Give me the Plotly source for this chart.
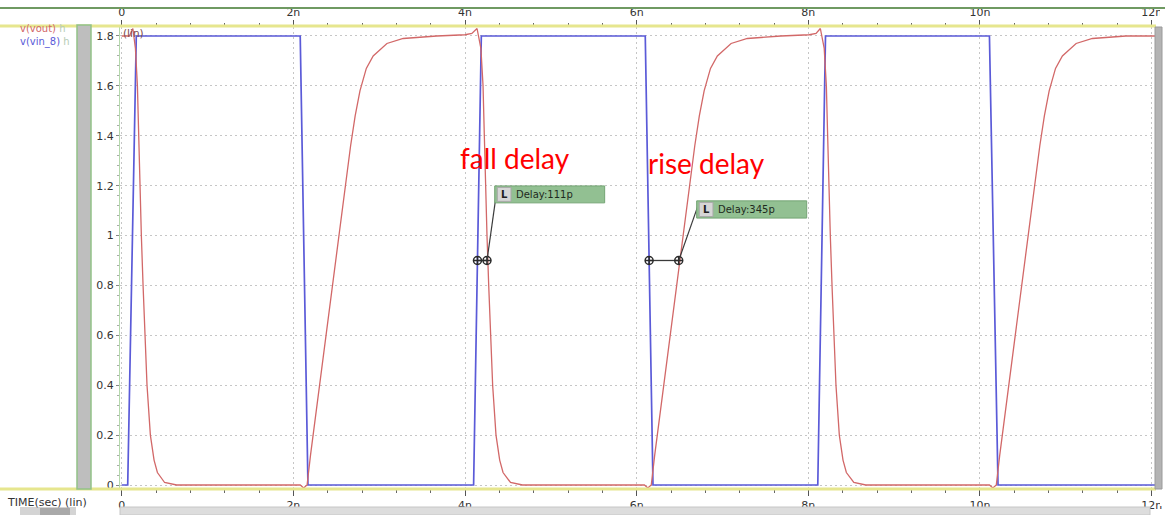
import plotly.graph_objects as go

# ---- waveform data (time in ns, voltage in V) ----
vin_t = [0.0, 0.07, 0.17, 2.08, 2.17, 4.10, 4.19, 6.10, 6.19, 8.11, 8.20, 10.11, 10.21, 12.04]
vin_v = [0.0, 0.0, 1.8, 1.8, 0.0, 0.0, 1.8, 1.8, 0.0, 0.0, 1.8, 1.8, 0.0, 0.0]

fall1_t = [0.0, 0.09, 0.13, 0.16, 0.183, 0.198, 0.21, 0.229, 0.249, 0.272, 0.295, 0.334, 0.377, 0.416, 0.50, 0.64]
fall1_v = [1.8, 1.8, 1.83, 1.75, 1.6, 1.4, 1.2, 1.0, 0.8, 0.6, 0.4, 0.2, 0.1, 0.05, 0.01, 0.0]

rise1_t = [2.08, 2.12, 2.16, 2.20, 2.29, 2.40, 2.50, 2.58, 2.667, 2.72, 2.776, 2.85, 2.93, 3.09, 3.28, 3.67, 4.00, 4.08]
rise1_v = [0.0, -0.012, 0.0, 0.12, 0.36, 0.65, 0.92, 1.13, 1.36, 1.48, 1.58, 1.67, 1.72, 1.77, 1.79, 1.80, 1.805, 1.81]

fall2_t = [4.14, 4.185, 4.21, 4.225, 4.238, 4.256, 4.276, 4.299, 4.322, 4.361, 4.404, 4.443, 4.53, 4.67]
fall2_v = [1.83, 1.75, 1.6, 1.4, 1.2, 1.0, 0.8, 0.6, 0.4, 0.2, 0.1, 0.05, 0.01, 0.0]

rise2_t = [6.09, 6.13, 6.17, 6.21, 6.30, 6.41, 6.51, 6.59, 6.677, 6.73, 6.786, 6.86, 6.94, 7.10, 7.29, 7.68, 8.01, 8.09]
rise2_v = [0.0, -0.012, 0.0, 0.12, 0.36, 0.65, 0.92, 1.13, 1.36, 1.48, 1.58, 1.67, 1.72, 1.77, 1.79, 1.80, 1.805, 1.81]

fall3_t = [8.14, 8.185, 8.21, 8.225, 8.238, 8.256, 8.276, 8.299, 8.322, 8.361, 8.404, 8.443, 8.53, 8.67]
fall3_v = [1.83, 1.75, 1.6, 1.4, 1.2, 1.0, 0.8, 0.6, 0.4, 0.2, 0.1, 0.05, 0.01, 0.0]

rise3_t = [10.11, 10.15, 10.19, 10.23, 10.32, 10.43, 10.53, 10.61, 10.697, 10.75, 10.806, 10.88, 10.96, 11.12, 11.31, 11.70, 12.04]
rise3_v = [0.0, -0.012, 0.0, 0.12, 0.36, 0.65, 0.92, 1.13, 1.36, 1.48, 1.58, 1.67, 1.72, 1.77, 1.79, 1.80, 1.80]

vout_t = fall1_t + rise1_t + fall2_t + rise2_t + fall3_t + rise3_t
vout_v = fall1_v + rise1_v + fall2_v + rise2_v + fall3_v + rise3_v

# delay measurements: start at the input 50% crossing, length = measured delay
delay_labels = ["Delay:111p", "Delay:345p"]
delay_ns = [0.111, 0.345]
delay_start_ns = [4.145, 6.145]
delay_level = 0.9

x_tickvals = [0, 2, 4, 6, 8, 10, 12]
x_ticktext = ["0", "2n", "4n", "6n", "8n", "10n", "12n"]
y_tickvals = [0, 0.2, 0.4, 0.6, 0.8, 1.0, 1.2, 1.4, 1.6, 1.8]
y_ticktext = ["0", "0.2", "0.4", "0.6", "0.8", "1", "1.2", "1.4", "1.6", "1.8"]

# ---- figure geometry ----
W, H = 1165, 515
ML, MR, MT, MB = 120, 10, 27, 26
PW, PH = W - ML - MR, H - MT - MB


def px(x):
    return (x - ML) / PW


def py(y):
    return (H - MB - y) / PH


VIN_COLOR = "#5a5ad8"
VOUT_COLOR = "#d26868"
FAINT = "#b6ccb6"
FONT = "DejaVu Sans"

fig = go.Figure()

fig.add_trace(go.Scatter(x=vin_t, y=vin_v, mode="lines", name="v(vin_8)",
                         line=dict(color=VIN_COLOR, width=1.7), hoverinfo="skip"))
fig.add_trace(go.Scatter(x=vout_t, y=vout_v, mode="lines", name="v(vout)",
                         line=dict(color=VOUT_COLOR, width=1.3), hoverinfo="skip"))
# helper trace so the top time axis is drawn
fig.add_trace(go.Scatter(x=[0], y=[0], mode="lines", xaxis="x2", showlegend=False,
                         line=dict(color="rgba(0,0,0,0)"), hoverinfo="skip"))

# delay cursor boxes (left, right, bottom, top in data units)
boxes = [(4.346, 5.627, 1.131, 1.199), (6.699, 7.981, 1.070, 1.139)]
for lbl, d, t0, (bx0, bx1, by0, by1) in zip(delay_labels, delay_ns, delay_start_ns, boxes):
    t1 = t0 + d
    fig.add_trace(go.Scatter(x=[t0, t1], y=[delay_level, delay_level], mode="lines+markers",
                             line=dict(color="#3a3a3a", width=1.3),
                             marker=dict(symbol="circle-cross-open", size=8,
                                         color="#2a2a2a", line=dict(width=1.5)),
                             showlegend=False, hoverinfo="skip"))
    fig.add_trace(go.Scatter(x=[t1, bx0 + 0.03], y=[delay_level, by1 - 0.005], mode="lines",
                             line=dict(color="#3a3a3a", width=1.2),
                             showlegend=False, hoverinfo="skip"))
    fig.add_shape(type="rect", xref="x", yref="y", x0=bx0, x1=bx1, y0=by0, y1=by1,
                  fillcolor="#92c092", line=dict(color="#74a474", width=1), layer="above")
    fig.add_shape(type="rect", xref="x", yref="y", x0=bx0 + 0.03, x1=bx0 + 0.19,
                  y0=by0 + 0.006, y1=by1 - 0.006,
                  fillcolor="#d6d6d6", line=dict(color="#a8a8a8", width=1), layer="above")
    fig.add_annotation(x=bx0 + 0.11, y=(by0 + by1) / 2, xref="x", yref="y", text="<b>L</b>",
                       showarrow=False, font=dict(family=FONT, size=10, color="#202020"))
    fig.add_annotation(x=bx0 + 0.23, y=(by0 + by1) / 2, xref="x", yref="y", text=lbl,
                       xanchor="left", showarrow=False,
                       font=dict(family=FONT, size=10, color="#1e2a1e"))

# red captions
fig.add_annotation(x=4.58, y=1.31, xref="x", yref="y", text="fall delay", showarrow=False,
                   font=dict(family="Lato, sans-serif", size=28, color="#ff0000"))
fig.add_annotation(x=6.81, y=1.29, xref="x", yref="y", text="rise delay", showarrow=False,
                   font=dict(family="Lato, sans-serif", size=28, color="#ff0000"))

# ---- window decorations (paper coordinates from pixel positions) ----
deco = [
    # window edge trimming the last time label
    dict(type="rect", x0=px(1160), x1=px(W), y0=py(25), y1=py(9), fillcolor="white",
         line=dict(width=0)),
    dict(type="rect", x0=px(1160), x1=px(W), y0=py(506), y1=py(491), fillcolor="white",
         line=dict(width=0)),
    dict(type="line", x0=px(0), x1=px(W), y0=py(8), y1=py(8), line=dict(color="#6f9a62", width=2)),
    dict(type="line", x0=px(0), x1=px(1156), y0=py(26), y1=py(26), line=dict(color="#e6e68e", width=3)),
    dict(type="line", x0=px(0), x1=px(1156), y0=py(489), y1=py(489), line=dict(color="#e6e68e", width=3)),
    dict(type="rect", x0=px(77), x1=px(91), y0=py(489), y1=py(25), fillcolor="#bebebe",
         line=dict(color="#92c288", width=1.5)),
    dict(type="rect", x0=px(1155), x1=px(1162), y0=py(489), y1=py(27), fillcolor="#b4b4b4",
         line=dict(color="#9a9a9a", width=1)),
    dict(type="rect", x0=px(20), x1=px(76), y0=py(515), y1=py(507), fillcolor="#d4d4d4",
         line=dict(width=0)),
    dict(type="rect", x0=px(40), x1=px(70), y0=py(515), y1=py(508), fillcolor="#a9a9a9",
         line=dict(width=0)),
    dict(type="rect", x0=px(120), x1=px(1150), y0=py(515), y1=py(507), fillcolor="#dddddd",
         line=dict(color="#c6c6c6", width=1)),
]
for s in deco:
    s.update(xref="paper", yref="paper", layer="above")
    fig.add_shape(**s)

# signal names, stacked in one block
names_html = (f"<span style='color:{VOUT_COLOR}'>v(vout)</span> <span style='color:{FAINT}'>h</span>"
              f"<br><span style='color:{VIN_COLOR}'>v(vin_8)</span> <span style='color:{FAINT}'>h</span>")
fig.add_annotation(x=px(19), y=py(36), xref="paper", yref="paper", text=names_html,
                   showarrow=False, xanchor="left", yanchor="middle", align="left",
                   borderpad=0, font=dict(family=FONT, size=10, color="#333333"))

texts = [
    (121, 33, "(lin)", "#7a4848", 10.5),
    (5, 502, "TIME(sec) (lin)", "#333333", 11),
]
for x, y, t, c, s in texts:
    fig.add_annotation(x=px(x), y=py(y), xref="paper", yref="paper", text=t, showarrow=False,
                       xanchor="left", yanchor="middle", font=dict(family=FONT, size=s, color=c))

x_range = [-0.0198, 12.039]
y_range = [-0.016, 1.836]
axis_font = dict(family=FONT, size=11, color="#333333")
GRID = "#c6c6c6"
GRID_DASH = "2px,3px"

fig.update_layout(
    width=W, height=H,
    margin=dict(l=ML, r=MR, t=MT, b=MB, autoexpand=False),
    paper_bgcolor="white", plot_bgcolor="white",
    showlegend=False,
    xaxis=dict(range=x_range, tickvals=x_tickvals, ticktext=x_ticktext, ticks="outside",
               ticklen=6, tickcolor="#555555", tickfont=axis_font, showgrid=True,
               gridcolor=GRID, griddash=GRID_DASH, gridwidth=1, zeroline=False,
               showline=False, automargin=False,
               minor=dict(dtick=0.4, tick0=0, ticks="outside", ticklen=3, tickcolor="#666666",
                          showgrid=False)),
    xaxis2=dict(range=x_range, overlaying="x", side="top", anchor="y", matches="x",
                tickvals=x_tickvals, ticktext=x_ticktext, ticks="outside", ticklen=6,
                tickcolor="#555555", tickfont=axis_font, showgrid=False, zeroline=False,
                showline=False, automargin=False,
                minor=dict(dtick=0.4, tick0=0, ticks="outside", ticklen=3, tickcolor="#666666",
                           showgrid=False)),
    yaxis=dict(range=y_range, tickvals=y_tickvals, ticktext=y_ticktext, ticks="outside",
               ticklen=3, tickcolor="#888888", tickfont=axis_font, showgrid=True,
               gridcolor=GRID, griddash=GRID_DASH, gridwidth=1, zeroline=False,
               showline=True, linecolor="#b4d8ac", linewidth=1, automargin=False,
               minor=dict(dtick=0.04, tick0=0, ticks="outside", ticklen=2, tickcolor="#aaaaaa",
                          showgrid=False)),
)

fig.write_html("out.html")
